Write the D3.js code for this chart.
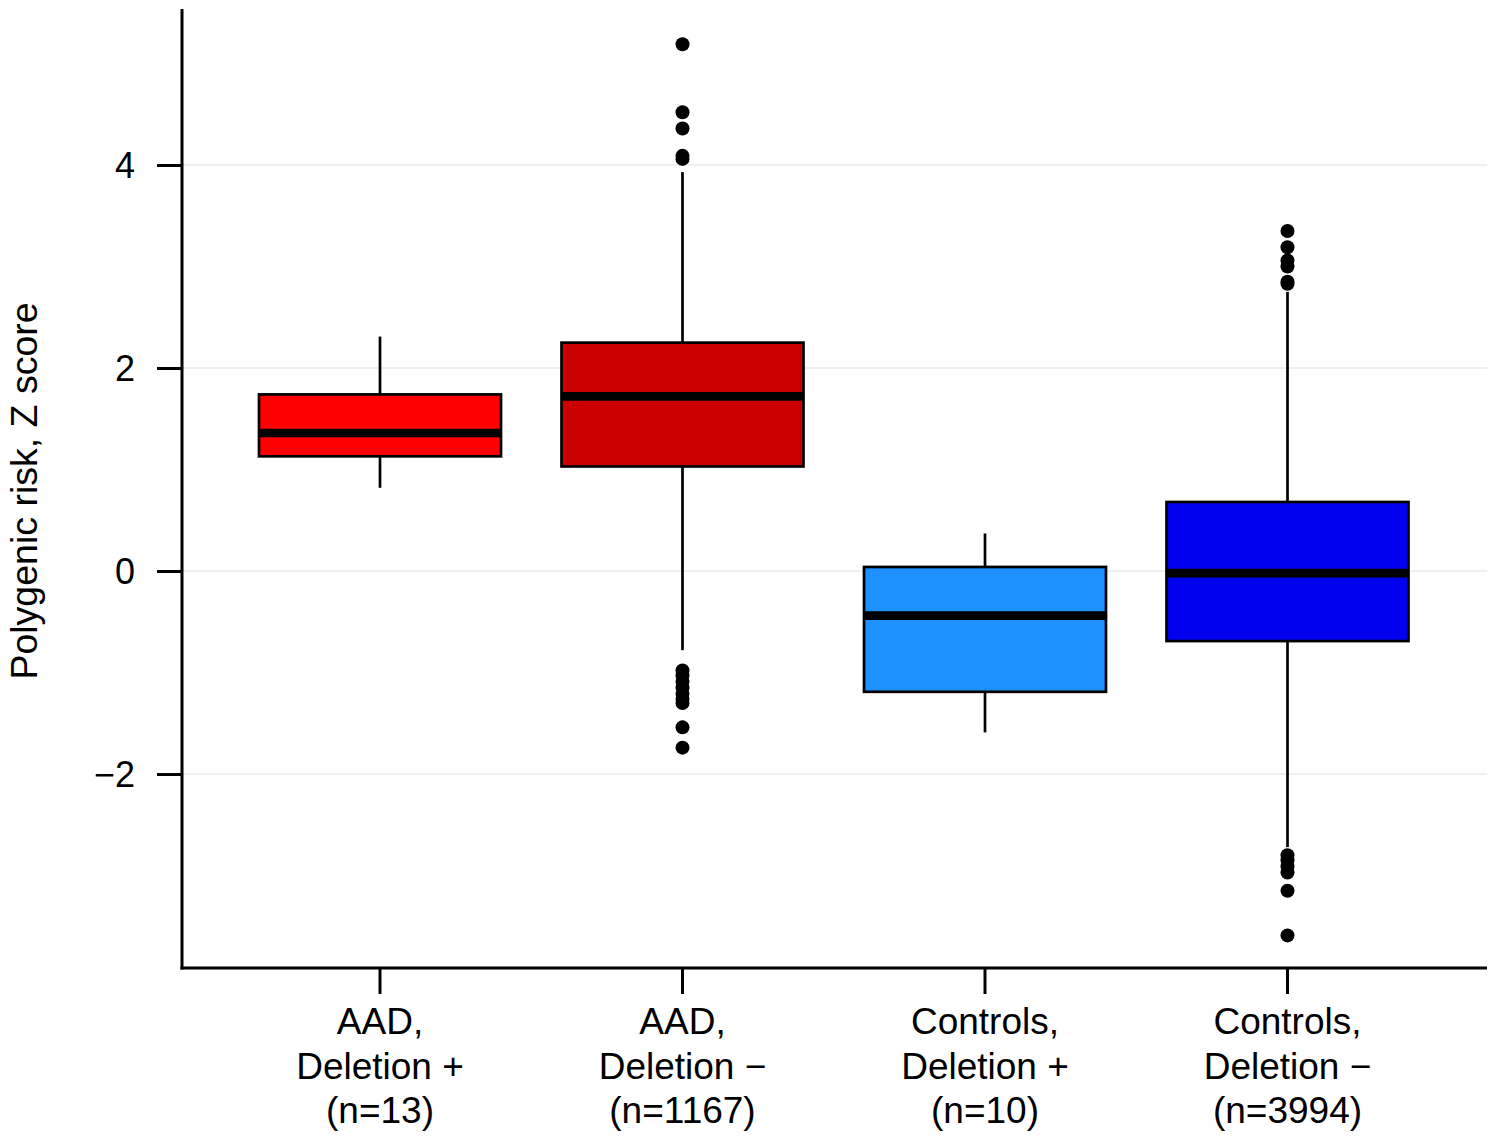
<!DOCTYPE html>
<html>
<head>
<meta charset="utf-8">
<script src="https://cdn.jsdelivr.net/npm/d3@7"></script>
<style>
  body { margin: 0; background: #fff; }
  text { font-family: "Liberation Sans", Arial, Helvetica, sans-serif; fill: #000; }
</style>
</head>
<body>
<script>
// Data
var categories = ["AAD, Del+", "AAD, Del-", "Controls, Del+", "Controls, Del-"];
var labelLines = [
  ["AAD,", "Deletion +", "(n=13)"],
  ["AAD,", "Deletion \u2212", "(n=1167)"],
  ["Controls,", "Deletion +", "(n=10)"],
  ["Controls,", "Deletion \u2212", "(n=3994)"]
];
var whiskerLow  = [0.82, -0.78, -1.59, -2.72];
var q1          = [1.13, 1.03, -1.19, -0.69];
var medians     = [1.36, 1.72, -0.44, -0.02];
var q3          = [1.74, 2.25, 0.04, 0.68];
var whiskerHigh = [2.31, 3.93, 0.37, 2.75];
var outliers = [
  [],
  [5.19, 4.52, 4.36, 4.09, 4.06, -0.98, -1.03, -1.09, -1.15, -1.21, -1.26, -1.30, -1.54, -1.74],
  [],
  [3.35, 3.19, 3.06, 3.00, 2.85, 2.83, -2.80, -2.85, -2.91, -2.97, -3.15, -3.59]
];
var yTicks = [-2, 0, 2, 4];
var fills = ["#FF0000", "#CC0000", "#1E90FF", "#0000EE"];

var width = 1498, height = 1142;
var plot = {left: 182, right: 1487, top: 9, bottom: 968};

var svg = d3.select("body").append("svg")
    .attr("width", width)
    .attr("height", height);

var x = d3.scaleBand()
    .domain(categories)
    .range([228.75, 1438.75])
    .padding(0);

var y = d3.scaleLinear()
    .domain([-3.911, 5.537])
    .range([plot.bottom, plot.top]);

var boxW = x.bandwidth() * 0.8;
function cx(i) { return x(categories[i]) + x.bandwidth() / 2; }

// grid lines
svg.append("g").selectAll("line")
    .data(yTicks)
  .enter().append("line")
    .attr("x1", plot.left).attr("x2", plot.right)
    .attr("y1", function(d) { return y(d); })
    .attr("y2", function(d) { return y(d); })
    .attr("stroke", "#EBEBEB")
    .attr("stroke-width", 1.5);

// boxes
var groups = svg.append("g").selectAll("g")
    .data(categories)
  .enter().append("g");

groups.append("line")
    .attr("x1", function(d, i) { return cx(i); })
    .attr("x2", function(d, i) { return cx(i); })
    .attr("y1", function(d, i) { return y(whiskerHigh[i]); })
    .attr("y2", function(d, i) { return y(q3[i]); })
    .attr("stroke", "#000").attr("stroke-width", 2.7);

groups.append("line")
    .attr("x1", function(d, i) { return cx(i); })
    .attr("x2", function(d, i) { return cx(i); })
    .attr("y1", function(d, i) { return y(q1[i]); })
    .attr("y2", function(d, i) { return y(whiskerLow[i]); })
    .attr("stroke", "#000").attr("stroke-width", 2.7);

groups.append("rect")
    .attr("x", function(d, i) { return cx(i) - boxW / 2; })
    .attr("width", boxW)
    .attr("y", function(d, i) { return y(q3[i]); })
    .attr("height", function(d, i) { return y(q1[i]) - y(q3[i]); })
    .attr("fill", function(d, i) { return fills[i]; })
    .attr("stroke", "#000").attr("stroke-width", 2.7);

groups.append("line")
    .attr("x1", function(d, i) { return cx(i) - boxW / 2; })
    .attr("x2", function(d, i) { return cx(i) + boxW / 2; })
    .attr("y1", function(d, i) { return y(medians[i]); })
    .attr("y2", function(d, i) { return y(medians[i]); })
    .attr("stroke", "#000").attr("stroke-width", 8.7);

groups.each(function(d, i) {
  d3.select(this).selectAll("circle")
      .data(outliers[i])
    .enter().append("circle")
      .attr("cx", cx(i))
      .attr("cy", function(v) { return y(v); })
      .attr("r", 7)
      .attr("fill", "#000");
});

// y axis
var yAxis = svg.append("g")
    .attr("transform", "translate(" + plot.left + ",0)")
    .call(d3.axisLeft(y).tickValues(yTicks).tickSize(25).tickSizeOuter(0).tickPadding(22));
yAxis.select(".domain").remove();
yAxis.selectAll(".tick line").attr("stroke-width", 3);
yAxis.selectAll(".tick text")
    .style("font-size", "36px")
    .attr("dy", "0.36em");
yAxis.append("line")
    .attr("y1", plot.top).attr("y2", plot.bottom + 1.5)
    .attr("stroke", "#000").attr("stroke-width", 3);

// x axis
var xAxis = svg.append("g")
    .attr("transform", "translate(0," + plot.bottom + ")")
    .call(d3.axisBottom(x).tickSize(26).tickSizeOuter(0).tickFormat(""));
xAxis.select(".domain").remove();
xAxis.selectAll(".tick line").attr("stroke-width", 3);
xAxis.append("line")
    .attr("x1", plot.left - 1.5).attr("x2", plot.right)
    .attr("stroke", "#000").attr("stroke-width", 3);

xAxis.selectAll(".tick").each(function(d, i) {
  var t = d3.select(this).append("text")
      .attr("text-anchor", "middle")
      .style("font-size", "37px");
  labelLines[i].forEach(function(s, k) {
    t.append("tspan").attr("x", 0).attr("y", 66 + k * 44.5).text(s);
  });
});

// y axis label
svg.append("text")
    .attr("transform", "translate(37," + 491 + ") rotate(-90)")
    .attr("text-anchor", "middle")
    .style("font-size", "37.5px")
    .text("Polygenic risk, Z score");
</script>
</body>
</html>
